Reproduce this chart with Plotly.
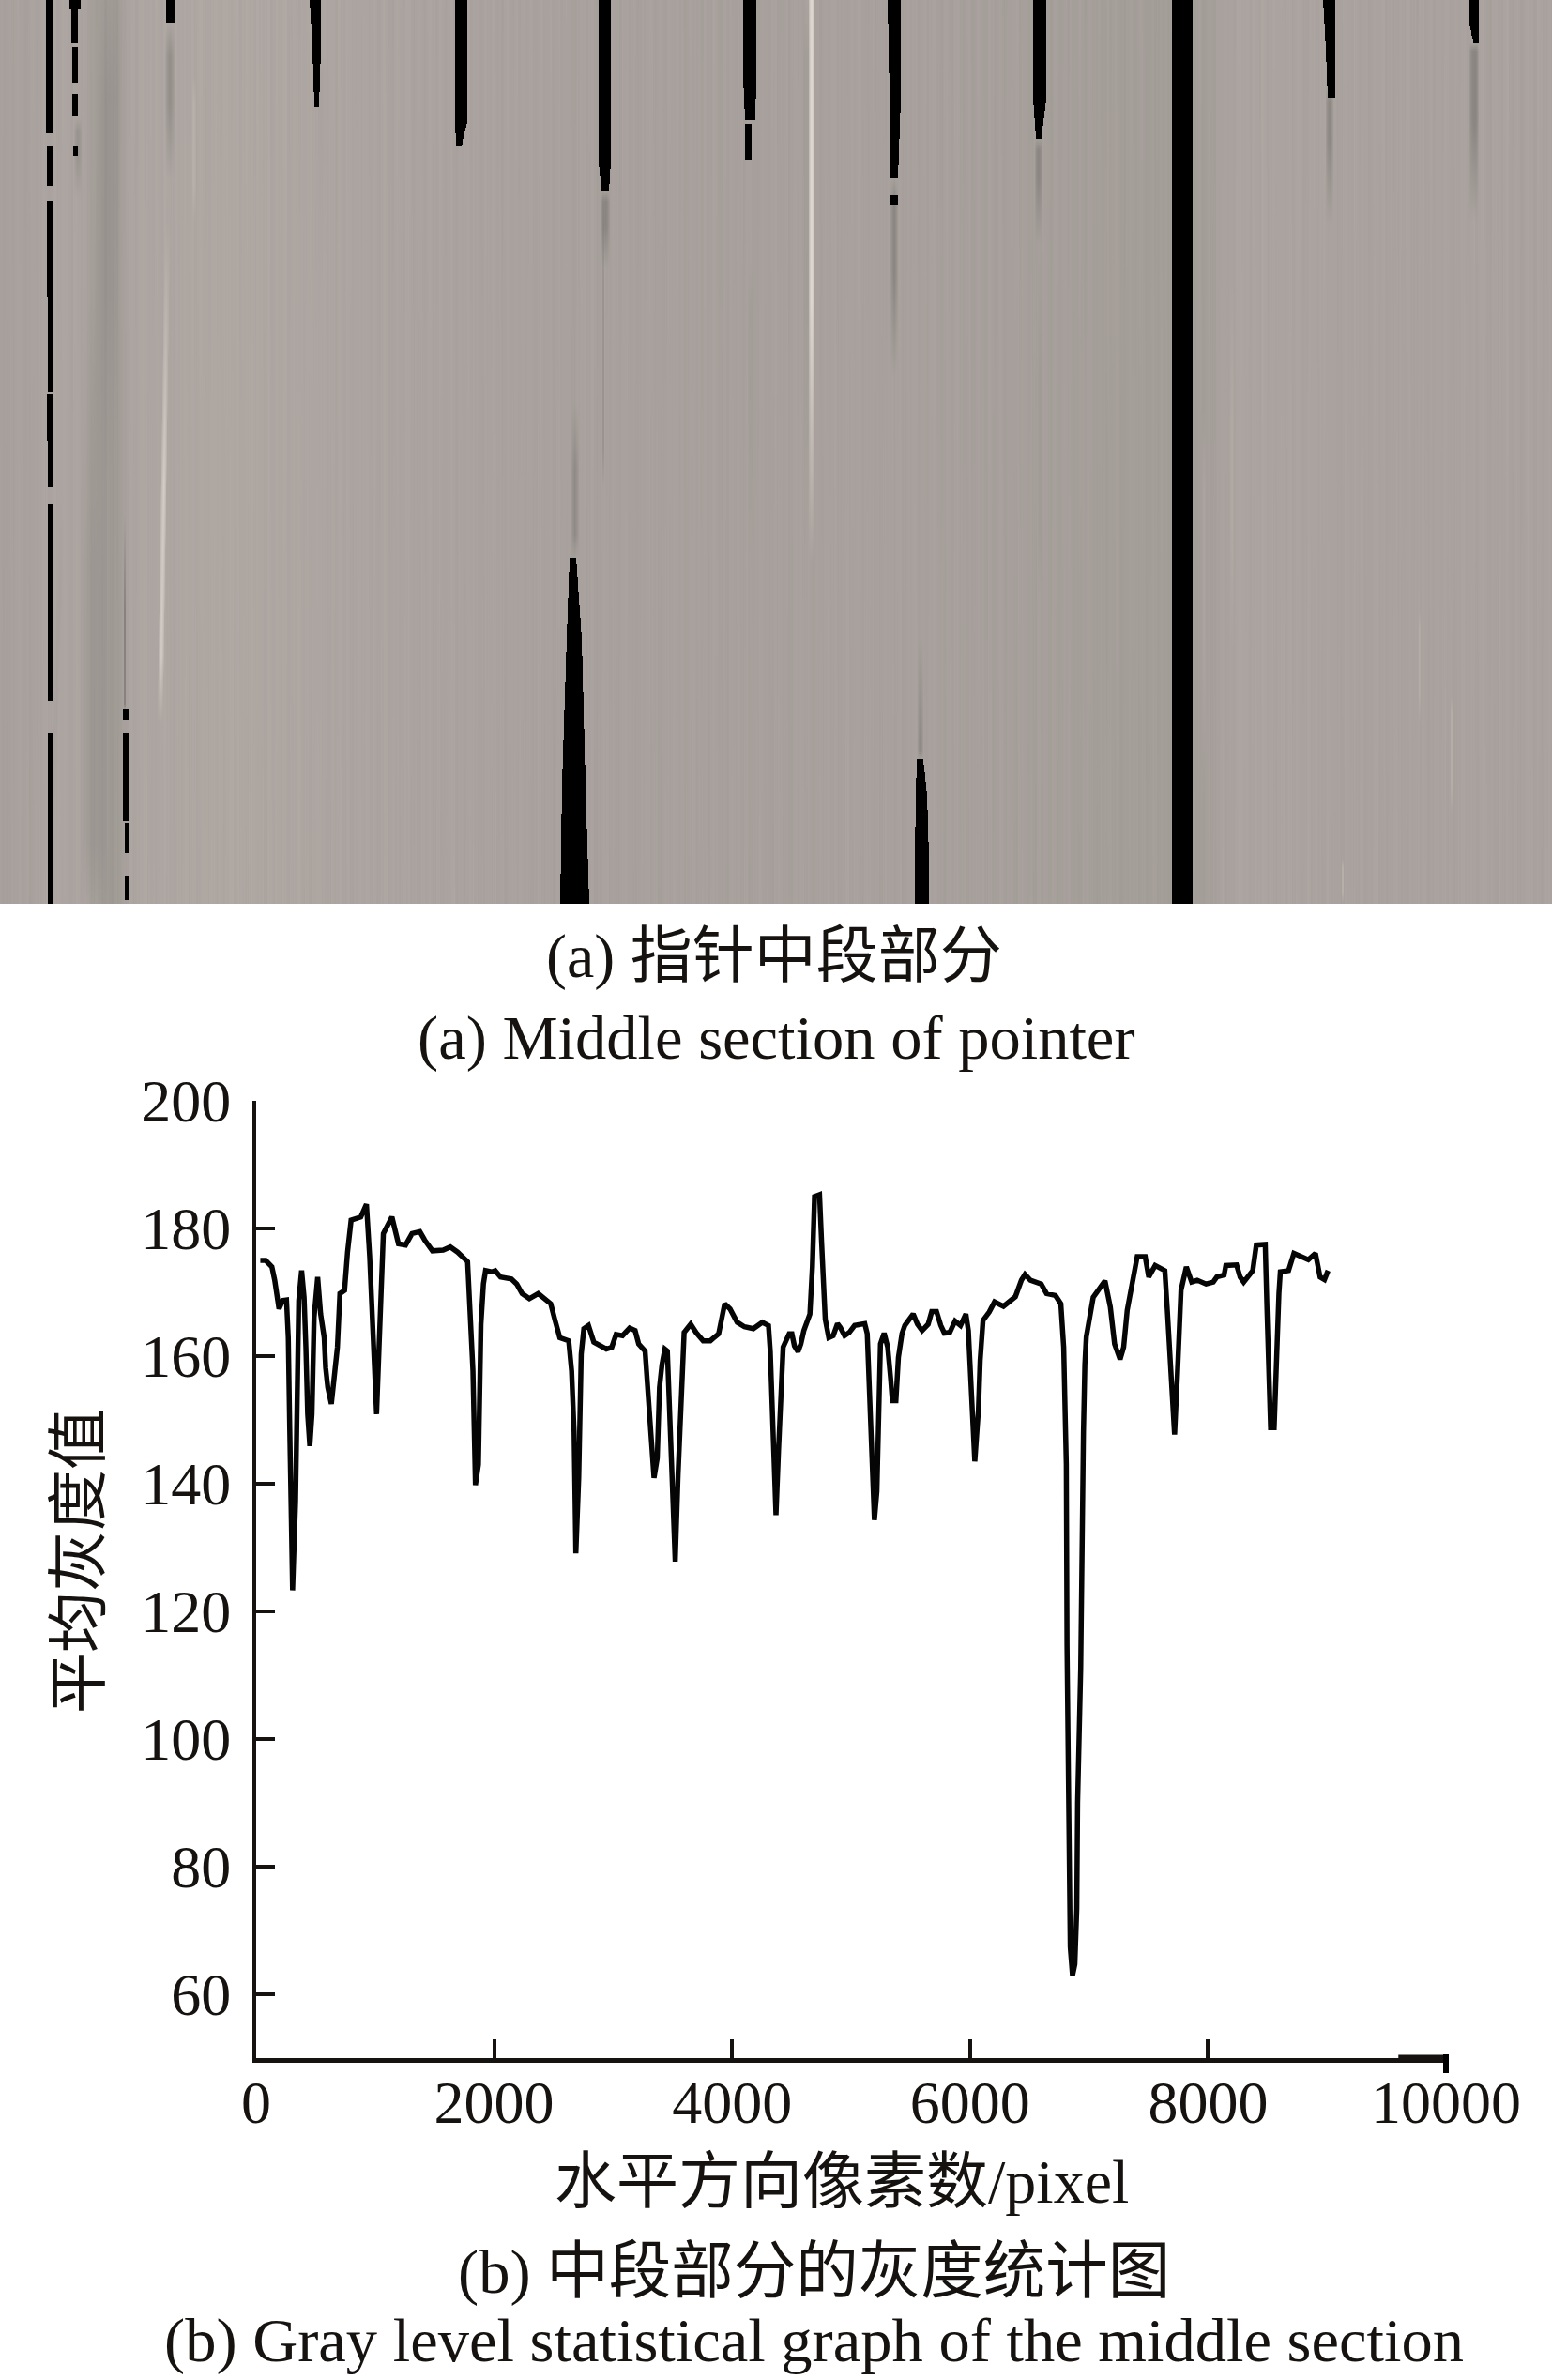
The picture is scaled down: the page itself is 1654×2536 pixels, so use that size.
import numpy as np
import plotly.graph_objects as go

# ---------- lower chart: mean gray level per horizontal pixel ----------
pixel_x = [35,80,132,156,192,222,255,270,282,306,331,343,358,382,403,418,433,451,469,487,517,542,572,584,602,632,659,683,704,743,768,798,879,927,954,979,991,1012,1033,1054,1069,1141,1196,1256,1310,1376,1416,1482,1572,1632,1693,1777,1798,1822,1843,1868,1889,1910,1928,1979,2009,2054,2145,2190,2235,2296,2371,2416,2476,2512,2552,2627,2651,2672,2687,2711,2732,2754,2793,2838,2943,2989,3025,3079,3139,3185,3215,3269,3290,3314,3344,3371,3390,3411,3435,3456,3477,3501,3522,3546,3567,3585,3597,3652,3697,3757,3817,3887,3938,3983,4043,4104,4179,4254,4306,4321,4339,4360,4369,4390,4411,4429,4480,4503,4524,4554,4578,4603,4654,4675,4693,4735,4753,4774,4783,4813,4850,4886,4910,4946,4985,5030,5115,5136,5145,5166,5196,5217,5235,5247,5278,5308,5332,5347,5377,5398,5428,5452,5522,5558,5597,5648,5678,5718,5754,5784,5829,5874,5920,5965,5986,6004,6025,6040,6070,6085,6109,6161,6206,6281,6381,6432,6462,6507,6598,6643,6718,6763,6787,6809,6815,6832,6842,6861,6881,6897,6904,6930,6938,6953,6965,6977,7035,7134,7179,7215,7261,7291,7321,7366,7405,7472,7502,7556,7637,7658,7682,7698,7719,7743,7758,7773,7818,7863,7909,7984,8044,8074,8135,8150,8240,8270,8300,8376,8406,8481,8496,8517,8526,8556,8580,8596,8608,8677,8722,8783,8843,8903,8942,8979,9009]
mean_gray = [175.0,175.0,174.0,171.9,167.4,168.7,168.8,162.9,148.8,123.3,137.2,156.1,168.7,173.4,169.2,161.4,150.9,145.9,150.9,166.1,172.4,166.6,162.9,158.2,155.1,152.5,157.2,161.4,169.8,170.3,176.3,181.3,181.8,183.8,175.6,164.5,155.6,150.9,161.4,170.8,179.2,181.8,177.6,177.4,179.2,179.5,178.2,176.5,176.6,177.1,176.3,174.8,168.2,157.7,139.8,143.0,165.0,171.3,173.4,173.2,173.4,172.4,172.1,171.3,169.8,169.0,169.8,169.0,168.2,165.6,162.9,162.4,157.7,148.2,129.1,140.9,160.3,164.3,164.8,162.2,161.1,161.4,163.4,163.2,164.4,164.0,161.9,160.8,154.8,149.3,140.9,144.0,155.1,158.7,161.1,160.8,150.9,141.4,127.8,141.4,153.0,160.8,163.7,165.0,163.7,162.4,162.4,163.5,168.2,167.4,165.3,164.6,164.3,165.3,164.8,160.8,151.4,140.9,135.1,145.1,154.0,161.4,163.5,163.5,161.6,160.7,161.9,164.0,166.6,174.0,185.0,185.3,177.6,170.3,165.8,162.9,163.2,165.1,164.5,163.2,163.7,164.8,165.1,163.5,158.7,149.3,134.3,138.8,156.1,161.9,163.6,161.4,156.6,153.0,153.0,159.8,163.5,164.8,166.6,165.0,164.0,165.0,167.0,167.0,164.8,163.6,163.7,165.5,164.8,166.6,164.0,156.6,147.2,143.5,151.4,159.3,165.6,166.9,168.5,167.8,169.3,171.9,172.8,171.9,171.3,169.8,169.5,168.2,161.4,143.0,114.6,81.5,67.4,62.9,64.7,73.4,90.0,111.0,130.4,148.0,158.7,163.0,169.2,171.8,167.7,161.9,159.5,161.4,167.2,171.9,175.6,175.6,172.4,174.2,173.4,167.2,159.8,151.9,147.7,157.2,164.5,170.3,174.0,171.6,171.9,171.3,171.6,172.4,172.7,174.2,174.3,172.4,171.6,173.4,177.4,177.5,167.2,157.2,148.8,148.8,163.5,169.8,173.2,173.4,176.1,175.6,175.1,176.1,172.4,172.0,173.4]

x_tick_values = [0, 2000, 4000, 6000, 8000, 10000]
y_tick_values = [60, 80, 100, 120, 140, 160, 180, 200]
axis_stub_x = [9600, 10000]
axis_stub_y = [50, 50]

# ---------- texts ----------
caption_a_cn = "(a) 指针中段部分"
caption_a_en = "(a) Middle section of pointer"
caption_b_cn = "(b) 中段部分的灰度统计图"
caption_b_en = "(b) Gray level statistical graph of the middle section"
x_title = "水平方向像素数/pixel"
y_title = "平均灰度值"

# ---------- upper photo, read as gray levels (0 = black) ----------
base_x = [0,40,60,90,110,125,140,180,250,400,600,800,900,1000,1100,1240,1280,1320,1450,1600,1654]
base_gray = [167,169,172,170,160,161,172,173,174,171,168,167,168,167,166,164,164,171,169,169,169]

# fine vertical banding, hand-read gray differences
fine_bands_a = [1,-1,0,2,-2,1,3,0,-2,-3,1,2,0,-1,2,3,-1,-2,0,1,-3,-1,2,1,0,-2,3,1,-1,0,2,-3,-1,1,0,2,3,-2,0,1,-1,-2,2,0,1,3,-1,0,-3,1,2,-1,0,1,-2,2,0,-1,3,1,-2,0,2,-1,1]
fine_bands_b = [0,2,-1,1,-2,0,3,-1,1,0,-2,2,1,-1,0,-3,2,0,1,-1,2,-2,0,1,3,-1,0,-2,1,2,0,-1,-2,1,0,2,-1,1,-3,0,1]

# black marks: [rows], [left edge], [right edge]
black_rows = [
    [0,142],[155,198],[213,417],[420,520],[537,748],[782,963],
    [0,9],[9,46],[50,87],[99,124],[155,166],
    [0,24],
    [0,52,114],
    [0,130,155],
    [0,173,203],
    [0,83,128],[131,170],
    [595,680,835,963],
    [756,767],[782,875],[878,909],[934,959],
    [0,105,189],[207,218],
    [0,105,147],
    [0,963],
    [0,52,104],
    [0,25,45],
    [810,847,915,963],
]
black_left = [
    [49,49],[50,50],[50,51],[50,51],[51,51],[51,51],
    [74,74],[76,76],[77,77],[77,77],[78,78],
    [177,177],
    [330,333,335],
    [485,485,486],
    [638,638,641],
    [792,792,794],[794,794],
    [607,604,599,597],
    [131,131],[131,131],[133,133],[133,133],
    [946,948,949],[949,949],
    [1101,1101,1104],
    [1249,1249],
    [1410,1413,1415],
    [1566,1566,1570],
    [977,976,975,975],
]
black_right = [
    [56,56],[57,57],[57,57],[57,57],[56,56],[56,56],
    [86,86],[83,83],[83,83],[83,83],[83,83],
    [187,187],
    [342,342,340],
    [498,498,492],
    [651,651,649],
    [806,806,805],[801,801],
    [614,620,624,628],
    [137,137],[138,138],[138,138],[138,138],
    [960,960,957],[957,957],
    [1115,1115,1110],
    [1271,1271],
    [1423,1423,1423],
    [1576,1576,1576],
    [984,988,990,990],
]

# soft streaks: x at top, x at bottom, half width, y stops of the envelope, gray difference
streak_x_top = [118,100,181,207,182,83,83,133,344,860,865,953,1107,1417,1571,1283,1313,1431,1547,1513,613,981,643,1108,800,1180,645]
streak_x_bot = [104,100,181,207,168,83,53,133,344,860,865,953,1107,1417,1571,1283,1313,1431,1547,1513,613,981,643,1108,800,1180,645]
streak_half = [13,14,5,2,3,4,3,1,5,4,3.5,4,4,4,5,2,2,1,1,1,4,3,1,2,3,2,5]
streak_y0 = [0,300,24,80,240,125,520,550,60,0,0,189,147,90,45,430,300,915,742,650,430,680,180,230,280,350,203]
streak_y1 = [100,600,60,110,520,140,650,650,80,60,1,218,160,110,55,520,450,925,760,670,500,790,300,400,330,500,215]
streak_y2 = [300,900,110,200,700,165,800,750,120,320,320,290,190,150,125,700,560,950,840,740,570,800,480,560,420,650,240]
streak_y3 = [520,963,190,235,770,210,963,756,300,600,600,400,260,240,235,860,700,963,866,770,595,810,520,640,620,800,285]
streak_delta = [-7,-8,-24,10,38,-18,-4,-45,-3,-6,60,-28,-28,-28,-34,8,7,20,15,12,-22,-24,-20,-6,-4,-3,-30]

# ---------- rasterise the photo on a regular grid ----------
cols = 1654
rows = 482
row_h = 963 / rows
col_centres = np.arange(cols) + 0.5
row_centres = (np.arange(rows) + 0.5) * row_h

photo = np.tile(np.interp(col_centres, base_x, base_gray), (rows, 1))
banding_top = np.resize(np.repeat(fine_bands_a, 3), cols) + 0.6 * np.resize(np.repeat(fine_bands_b, 2), cols)
banding_bottom = np.roll(np.resize(np.repeat(fine_bands_b, 4), cols), 57) + 0.6 * np.roll(np.resize(fine_bands_a, cols), 23)
for i, row in enumerate(row_centres):
    w = row / 963
    photo[i] += 0.7 * ((1 - w) * banding_top + w * banding_bottom)

for k in range(len(streak_delta)):
    env_y = [streak_y0[k], streak_y1[k], streak_y2[k], streak_y3[k]]
    envelope = np.interp(row_centres, env_y, [0, 1, 1, 0], left=0, right=0)
    centre = np.interp(row_centres, [0, 963], [streak_x_top[k], streak_x_bot[k]])
    for i in np.nonzero(envelope)[0]:
        across = np.clip(1 - np.abs(col_centres - centre[i]) / streak_half[k], 0, 1)
        photo[i] += streak_delta[k] * envelope[i] * np.sqrt(across)

for ys, ls, rs in zip(black_rows, black_left, black_right):
    for i in np.nonzero((row_centres >= ys[0]) & (row_centres <= ys[-1]))[0]:
        left = np.interp(row_centres[i], ys, ls)
        right = np.interp(row_centres[i], ys, rs)
        photo[i, (col_centres >= left) & (col_centres < right)] = 0

photo = np.clip(photo, 0, 255).astype(np.uint8)

# ---------- figure ----------
W, H = 1654, 2536
INK = "#151210"
LATIN_CJK = "'Liberation Serif','Times New Roman','Noto Sans CJK SC',serif"

fig = go.Figure()
fig.add_trace(go.Heatmap(
    z=photo, x0=0.5, dx=1, y0=row_h / 2, dy=row_h,
    xaxis="x2", yaxis="y2", zmin=0, zmax=255, zsmooth=False, showscale=False,
    colorscale=[[0, "rgb(0,0,0)"], [1, "rgb(255,245,238)"]], hoverinfo="skip",
))
fig.add_trace(go.Scatter(
    x=pixel_x, y=mean_gray, mode="lines", showlegend=False,
    line=dict(color="#050505", width=5.5, shape="linear"),
))
fig.add_trace(go.Scatter(
    x=axis_stub_x, y=axis_stub_y, mode="lines", showlegend=False, cliponaxis=False,
    line=dict(color=INK, width=7),
))

fig.update_layout(
    width=W, height=H, margin=dict(l=0, r=0, t=0, b=0, autoexpand=False),
    paper_bgcolor="white", plot_bgcolor="white", showlegend=False,
    font=dict(family=LATIN_CJK, color=INK, size=64),
    xaxis=dict(
        domain=[273 / W, 1541 / W], range=[0, 10000], anchor="y", automargin=False,
        tickmode="array", tickvals=x_tick_values, ticktext=[str(v) for v in x_tick_values],
        ticks="inside", ticklen=20, tickwidth=3.5,
        tickcolor=INK, showline=True, linecolor=INK, linewidth=5, showgrid=False, zeroline=False,
        tickfont=dict(size=64), ticklabelstandoff=-13,
    ),
    yaxis=dict(
        domain=[(H - 2193) / H, (H - 1173) / H], range=[50, 200], anchor="x", automargin=False,
        tickmode="array", tickvals=y_tick_values, ticks="inside", ticklen=20, tickwidth=3.5,
        tickcolor=INK, showline=True, linecolor=INK, linewidth=4, showgrid=False, zeroline=False,
        tickfont=dict(size=64), ticklabelstandoff=10,
    ),
    xaxis2=dict(domain=[0, 1], range=[0, 1654], anchor="y2", visible=False, fixedrange=True, automargin=False),
    yaxis2=dict(domain=[(H - 963) / H, 1], range=[963, 0], anchor="x2", visible=False, fixedrange=True, automargin=False),
    shapes=[dict(type="line", xref="paper", yref="paper", x0=1541 / W, x1=1541 / W,
                 y0=1 - 2189 / H, y1=1 - 2209 / H, line=dict(color="#000000", width=6))],
)

def caption(text, cx, cy, size, angle=0):
    fig.add_annotation(text=text, x=cx / W, y=1 - cy / H, xref="paper", yref="paper",
                       xanchor="center", yanchor="middle", showarrow=False, textangle=angle,
                       font=dict(size=size, family=LATIN_CJK, color=INK))

caption(caption_a_cn, 825, 1019, 66)
caption(caption_a_en, 827, 1106, 66.5)
caption(caption_b_cn, 867, 2421, 66.5)
caption(caption_b_en, 867, 2494, 66.5)
caption(x_title, 897, 2324, 66)
caption(y_title, 84, 1664, 65, -90)

fig.write_html("out.html", config={"displayModeBar": False},
               post_script="document.body.style.margin='0';document.body.style.overflow='hidden';")
